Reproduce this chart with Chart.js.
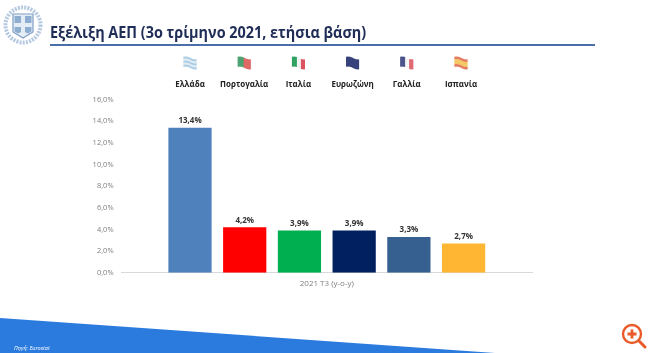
<!DOCTYPE html>
<html lang="el">
<head>
<meta charset="utf-8">
<title>Εξέλιξη ΑΕΠ</title>
<script src="https://cdn.jsdelivr.net/npm/chart.js@4"></script>
<style>
  html, body { margin: 0; padding: 0; background: #fff; }
  #page { position: relative; width: 650px; height: 353px; overflow: hidden; filter: blur(0.35px); }
  #page canvas, #page svg { position: absolute; left: 0; top: 0; }
  #title {
    position: absolute; left: 50px; top: 21px; white-space: nowrap;
    font: 700 16px "Open Sans", sans-serif; color: #1f2d57;
    transform: scaleX(0.9); transform-origin: left top;
  }
  #rule { position: absolute; left: 50px; top: 44px; width: 545px; height: 2px; background: #4a6fa8; }
  #source { position: absolute; left: 14px; top: 344px; font: italic 5.5px "Open Sans", sans-serif; color: #fff; }
</style>
</head>
<body>
<div id="page">
  <svg width="650" height="353" viewBox="0 0 650 353">
    <polygon points="0,318 495,353 0,353" fill="#2b7bdf"/>
    <!-- emblem -->
    <circle cx="23" cy="25" r="17.5" fill="none" stroke="#b4c8e0" stroke-width="4" stroke-dasharray="2 1.2"/>
    <path d="M13 14 H33 V32 L23 38 L13 32 Z" fill="#e4ecf5" stroke="#7f9fc6" stroke-width="1.2"/>
    <path d="M14.5 16 H21 V23 H14.5 Z M25 16 H31.5 V23 H25 Z M14.5 27 H21 V32 L18 33.5 L14.5 31.5 Z M25 27 H31.5 V31.5 L28 33.5 L25 32 Z" fill="#8dadd1"/>
    <!-- zoom badge -->
    <circle cx="632" cy="334" r="9" fill="#fff" stroke="#ea5a28" stroke-width="2.4"/>
    <path d="M627.5 334 H636.5 M632 329.5 V338.5" stroke="#ea5a28" stroke-width="2.8"/>
    <path d="M639 341 L645 347" stroke="#ea5a28" stroke-width="3" stroke-linecap="round"/>
  </svg>
  <div id="title">Εξέλιξη ΑΕΠ (3ο τρίμηνο 2021, ετήσια βάση)</div>
  <div id="rule"></div>
  <canvas id="chart" width="650" height="353"></canvas>
  <div id="source">Πηγή: Eurostat</div>
</div>
<script>
const categories = ['2021 T3 (y-o-y)'];
const countries = ['Ελλάδα', 'Πορτογαλία', 'Ιταλία', 'Ευρωζώνη', 'Γαλλία', 'Ισπανία'];
const gdpGrowth = [13.4, 4.2, 3.9, 3.9, 3.3, 2.7];
const barColors = ['#4f81bd', '#ff0000', '#00b050', '#002060', '#35608f', '#ffb733'];
const yTicks = [0, 2, 4, 6, 8, 10, 12, 14, 16];

// stripes of each little flag: [direction, colours]
const flags = [
  ['h', ['#8fbbd9', '#d5e5f0', '#8fbbd9', '#d5e5f0', '#8fbbd9']],
  ['v', ['#1f8a4c', '#1f8a4c', '#d8423c', '#d8423c', '#d8423c']],
  ['v', ['#1f9a55', '#eef3ee', '#d8434f']],
  ['v', ['#24306f']],
  ['v', ['#1f2a6e', '#f2f2f5', '#d8434f']],
  ['h', ['#d9512c', '#f2b632', '#f2b632', '#d9512c']],
];

// the legend row is a little tighter than the bars
const LEGEND_PITCH = 54.2;

const pct = (v) => `${v.toFixed(1).replace('.', ',')}%`;

function drawFlag(ctx, cx, cy, flag) {
  const [dir, colors] = flag;
  const w = 13;
  const h = 10;
  for (let i = 0; i < w; i += 1) {
    // columns shifted along a slope and a small wave so the flag looks waved
    const off = (i - w / 2) * 0.2 + Math.sin((i / w) * Math.PI * 2) * -0.6;
    const top = cy - h / 2 + off;
    if (dir === 'v') {
      ctx.fillStyle = colors[Math.floor((i / w) * colors.length)];
      ctx.fillRect(cx - w / 2 + i, top, 1, h);
    } else {
      colors.forEach((c, s) => {
        ctx.fillStyle = c;
        ctx.fillRect(cx - w / 2 + i, top + (s * h) / colors.length, 1, h / colors.length);
      });
    }
  }
}

const barLabels = {
  id: 'barLabels',
  afterDatasetsDraw(chart) {
    const { ctx } = chart;
    const firstX = chart.getDatasetMeta(0).data[0].x;
    ctx.save();
    ctx.textAlign = 'center';
    chart.data.datasets.forEach((dataset, i) => {
      const bar = chart.getDatasetMeta(i).data[0];
      // value above the bar
      ctx.font = '700 8px "Open Sans", sans-serif';
      ctx.fillStyle = '#333';
      ctx.textBaseline = 'bottom';
      ctx.fillText(pct(dataset.data[0]), bar.x, bar.y - 3);
      // legend row on top of the chart
      const legendX = firstX + i * LEGEND_PITCH;
      ctx.fillStyle = '#222';
      ctx.textBaseline = 'middle';
      ctx.fillText(dataset.label, legendX, 85);
      drawFlag(ctx, legendX, 63, flags[i]);
    });
    ctx.restore();
  },
};

new Chart(document.getElementById('chart'), {
  type: 'bar',
  data: {
    labels: categories,
    datasets: countries.map((label, i) => ({
      label,
      data: [gdpGrowth[i]],
      backgroundColor: barColors[i],
    })),
  },
  options: {
    responsive: false,
    animation: false,
    layout: {
      padding: {
        top: 99.5, right: 118, bottom: 60, left: 0,
      },
    },
    plugins: {
      legend: { display: false },
      tooltip: { enabled: false },
    },
    datasets: {
      bar: {
        categoryPercentage: 0.8,
        barPercentage: 0.79,
      },
    },
    scales: {
      x: {
        grid: { display: false, tickLength: 0 },
        border: { color: '#d9d9d9' },
        ticks: { color: '#7f7f7f', font: { family: '"Open Sans", sans-serif', size: 8 }, padding: 6 },
        afterFit: (scale) => { scale.height = 20.3; },
      },
      y: {
        min: 0,
        max: 16,
        grid: { display: false, tickLength: 0 },
        border: { display: false },
        afterFit: (scale) => { scale.width = 121.6; },
        afterBuildTicks: (scale) => { scale.ticks = yTicks.map((value) => ({ value })); },
        ticks: {
          color: '#7f7f7f',
          padding: 8,
          font: { family: '"Open Sans", sans-serif', size: 7.5 },
          callback: (value) => pct(value),
        },
      },
    },
  },
  plugins: [barLabels],
});
</script>
</body>
</html>
